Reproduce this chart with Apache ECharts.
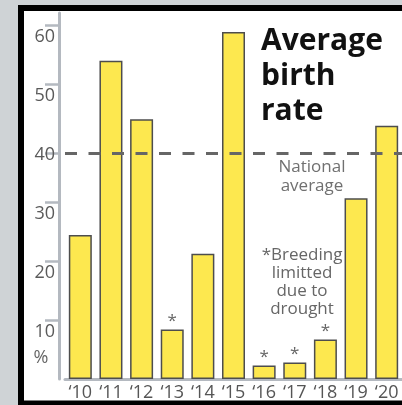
<!DOCTYPE html>
<html>
<head>
<meta charset="utf-8">
<script src="https://cdn.jsdelivr.net/npm/echarts@6/dist/echarts.min.js"></script>
<style>
  html, body { margin: 0; padding: 0; background: #cfd3d6; }
  #main { width: 402px; height: 405px; }
</style>
</head>
<body>
<div id="main"></div>
<script>
// years and average birth rate (%)
var years = ['‘10', '‘11', '‘12', '‘13', '‘14', '‘15', '‘16', '‘17', '‘18', '‘19', '‘20'];
var birthRate = [24.4, 53.9, 44.0, 8.4, 21.2, 58.8, 2.3, 2.8, 6.7, 30.6, 42.9];
// years marked with * (breeding limitted due to drought)
var droughtYears = ['‘13', '‘16', '‘17', '‘18'];
var nationalAverage = 38.3;
var labelValues = [10, 20, 30, 40, 50, 60];
var tickValues = [10, 20, 30, nationalAverage, 50, 60];

var font = 'Open Sans';
var chart = echarts.init(document.getElementById('main'));

var barData = birthRate.map(function (v, i) {
  if (droughtYears.indexOf(years[i]) >= 0) {
    return { value: v, label: { show: true } };
  }
  return v;
});

var option = {
  backgroundColor: '#cfd3d6',
  animation: false,
  title: {
    text: 'Average\nbirth\nrate',
    left: 261,
    top: 24,
    padding: 0,
    textStyle: {
      fontFamily: font,
      fontSize: 30,
      fontWeight: 'bold',
      lineHeight: 35,
      color: '#111'
    }
  },
  graphic: [
    {
      type: 'rect',
      z: -10,
      shape: { x: 21, y: 8, width: 420, height: 395.5 },
      style: { fill: '#fff', stroke: '#000', lineWidth: 6 }
    },
    {
      type: 'text',
      x: 41, y: 358,
      style: { text: '%', fill: '#666', font: '18px "Open Sans"', textAlign: 'center', textVerticalAlign: 'middle' }
    },
    {
      type: 'text',
      x: 312, y: 158,
      style: {
        text: 'National\naverage', fill: '#707070', font: '17px "Open Sans"',
        textAlign: 'center', lineHeight: 19
      }
    },
    {
      type: 'text',
      x: 302, y: 246,
      style: {
        text: '*Breeding\nlimitted\ndue to\ndrought', fill: '#666', font: '17px "Open Sans"',
        textAlign: 'center', lineHeight: 18
      }
    }
  ],
  grid: { left: 65, top: 13, width: 348, bottom: 26 },
  xAxis: {
    type: 'category',
    data: years,
    axisLine: { lineStyle: { color: '#b4b9c0', width: 3 } },
    axisTick: { show: false },
    axisLabel: { interval: 0, color: '#555', fontSize: 18, fontFamily: font, margin: 5 }
  },
  yAxis: {
    type: 'value',
    min: 0,
    max: 62,
    offset: 6,
    splitLine: { show: false },
    axisLine: { show: true, lineStyle: { color: '#b4b9c0', width: 3 } },
    axisTick: {
      show: true, length: 14, customValues: tickValues,
      lineStyle: { color: '#b4b9c0', width: 2.5 }
    },
    axisLabel: {
      customValues: labelValues,
      color: '#5a5a5a', fontSize: 18, fontFamily: font,
      verticalAlign: 'top', margin: 4, padding: [3, 0, 0, 0]
    }
  },
  series: [{
    type: 'bar',
    data: barData,
    barWidth: 23,
    itemStyle: { color: '#fde84f', borderColor: '#4d4d4d', borderWidth: 1.5 },
    label: {
      show: false, position: 'top', distance: 0, formatter: '*',
      color: '#666', fontSize: 17, fontFamily: font
    },
    markLine: {
      silent: true,
      symbol: ['none', 'none'],
      label: { show: false },
      lineStyle: { color: '#666', width: 3, type: [12, 11.5] },
      data: [{ yAxis: nationalAverage }]
    }
  }]
};

chart.setOption(option);
</script>
</body>
</html>
